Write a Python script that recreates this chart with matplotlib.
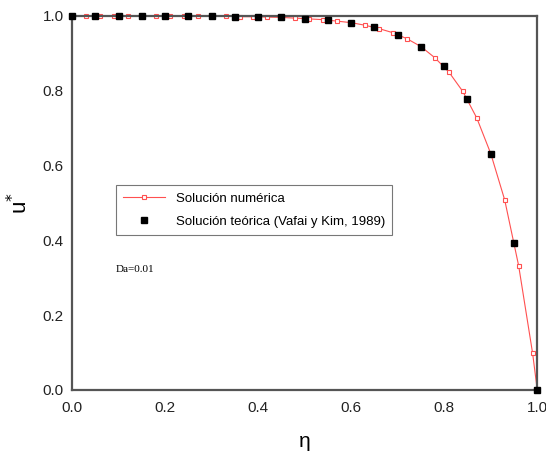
import matplotlib
matplotlib.use("Agg")
import matplotlib.pyplot as plt

# -------------------- Data --------------------
eta_num = [0.0, 0.03, 0.06, 0.09, 0.12, 0.15, 0.18, 0.21, 0.24, 0.27, 0.30, 0.33,
           0.36, 0.39, 0.42, 0.45, 0.48, 0.51, 0.54, 0.57, 0.60, 0.63, 0.66, 0.69,
           0.72, 0.75, 0.78, 0.81, 0.84, 0.87, 0.90, 0.93, 0.96, 0.99, 1.0]
u_num = [1.0, 1.0, 1.0, 1.0, 1.0, 1.0, 1.0, 1.0, 1.0, 0.999, 0.999, 0.999,
         0.998, 0.998, 0.997, 0.996, 0.994, 0.992, 0.990, 0.986, 0.982, 0.975, 0.966, 0.955,
         0.939, 0.918, 0.888, 0.850, 0.798, 0.727, 0.632, 0.508, 0.332, 0.098, 0.0]

eta_teo = [0.0, 0.05, 0.10, 0.15, 0.20, 0.25, 0.30, 0.35, 0.40, 0.45, 0.50,
           0.55, 0.60, 0.65, 0.70, 0.75, 0.80, 0.85, 0.90, 0.95, 1.0]
u_teo = [1.0, 1.0, 1.0, 1.0, 1.0, 1.0, 0.999, 0.998, 0.997, 0.996, 0.993,
         0.989, 0.982, 0.970, 0.950, 0.918, 0.865, 0.777, 0.632, 0.394, 0.0]

ticks = [0.0, 0.2, 0.4, 0.6, 0.8, 1.0]

# -------------------- Plot --------------------
plt.rcParams['font.family'] = ['Liberation Sans', 'DejaVu Sans']

fig = plt.figure(figsize=(5.46, 4.55), dpi=100)
ax = fig.add_axes([0.132, 0.143, 0.852, 0.822])

ax.plot(eta_num, u_num, color='#ff5050', lw=0.8, marker='s', ms=3.5,
        mfc='white', mec='#ff5050', mew=0.8, clip_on=False,
        label='Solución numérica')
ax.plot(eta_teo, u_teo, ls='none', marker='s', ms=3.7, color='black',
        clip_on=False, zorder=3, label='Solución teórica (Vafai y Kim, 1989)')

ax.set_xlim(0, 1)
ax.set_ylim(0, 1)
ax.set_xticks(ticks)
ax.set_yticks(ticks)
ax.set_xticklabels([f'{t:.1f}' for t in ticks])
ax.set_yticklabels([f'{t:.1f}' for t in ticks])
ax.tick_params(length=0, labelsize=11, colors='#222222')
ax.tick_params(axis='x', pad=8)
ax.tick_params(axis='y', pad=6)

for s in ax.spines.values():
    s.set_color('#555555')
    s.set_linewidth(1.6)

ax.set_xlabel('η', fontsize=15, labelpad=12)
ax.set_ylabel('u$^{*}$', fontsize=16)
ax.yaxis.set_label_coords(-0.085, 0.5)

leg = ax.legend(loc='upper left', bbox_to_anchor=(0.08, 0.565), fontsize=9.5,
                frameon=True, fancybox=False, borderpad=0.55,
                handlelength=3.2, labelspacing=0.8)
leg.get_frame().set_edgecolor('#555555')
leg.get_frame().set_linewidth(0.8)

ax.text(0.093, 0.315, 'Da=0.01', transform=ax.transAxes, fontsize=8,
        family='Liberation Serif')

fig.savefig('out.png', dpi=100)
